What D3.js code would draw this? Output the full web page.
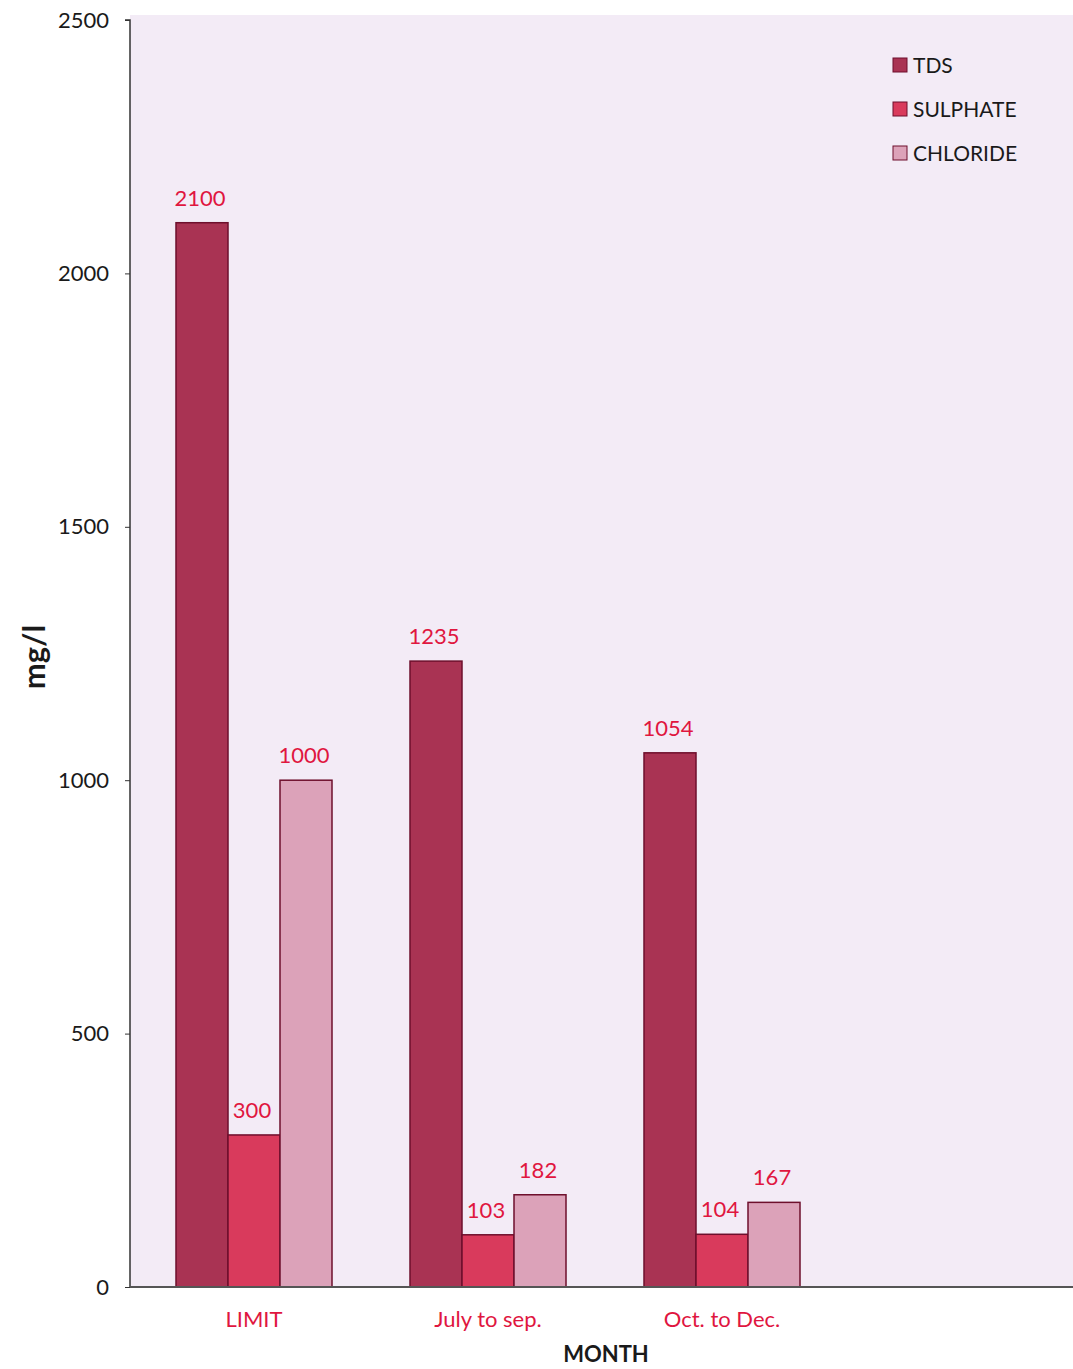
<!DOCTYPE html>
<html>
<head>
<meta charset="utf-8">
<script src="https://cdn.jsdelivr.net/npm/d3@7"></script>
<style>
  html, body { margin: 0; padding: 0; background: #ffffff; }
  svg { display: block; }
</style>
</head>
<body>
<div id="chart"></div>
<script>
// Water quality by period (mg/l)
const categories = ["LIMIT", "July to sep.", "Oct. to Dec."];
const seriesNames = ["TDS", "SULPHATE", "CHLORIDE"];
const tdsValues = [2100, 1235, 1054];
const sulphateValues = [300, 103, 104];
const chlorideValues = [1000, 182, 167];
const yTicks = [0, 500, 1000, 1500, 2000, 2500];

const seriesValues = [tdsValues, sulphateValues, chlorideValues];
const colors = ["#a93353", "#d93a5c", "#dca2b9"];
const strokeCol = "#6e0f2c";
const labelRed = "#e0163f";
const font = "Lato, 'Open Sans', sans-serif";

const W = 1073, H = 1369;
const plot = { left: 130, top: 15, right: 1073, bottom: 1287 };

const svg = d3.select("#chart").append("svg")
  .attr("width", W).attr("height", H);

// plot area background
svg.append("rect")
  .attr("x", plot.left).attr("y", plot.top)
  .attr("width", plot.right - plot.left).attr("height", plot.bottom - plot.top)
  .attr("fill", "#f3ebf6");

const y = d3.scaleLinear().domain([0, 2500]).range([1287, 20]);

const x0 = d3.scaleBand().domain(categories).range([137, 839]).paddingInner(0).paddingOuter(0);
const groupWidth = 156;
const x1 = d3.scaleBand().domain(seriesNames).range([0, groupWidth]).padding(0);
const offset = (x0.bandwidth() - groupWidth) / 2;

const rows = categories.map((c, i) => ({
  cat: c,
  vals: seriesNames.map((s, j) => ({ series: s, idx: j, value: seriesValues[j][i] }))
}));

const groups = svg.append("g").selectAll("g").data(rows).join("g")
  .attr("transform", d => `translate(${x0(d.cat) + offset},0)`);

groups.selectAll("rect").data(d => d.vals).join("rect")
  .attr("x", d => x1(d.series))
  .attr("y", d => y(d.value))
  .attr("width", x1.bandwidth())
  .attr("height", d => y(0) - y(d.value))
  .attr("fill", d => colors[d.idx])
  .attr("stroke", strokeCol)
  .attr("stroke-width", 1.5);

groups.selectAll("text").data(d => d.vals).join("text")
  .attr("x", d => x1(d.series) + x1.bandwidth() / 2 - 2)
  .attr("y", d => y(d.value) - 17)
  .attr("text-anchor", "middle")
  .attr("font-family", font)
  .attr("font-size", 22)
  .attr("fill", labelRed)
  .text(d => d.value);

// y axis
const yAxis = d3.axisLeft(y).tickValues(yTicks).tickSize(5).tickPadding(16).tickFormat(d3.format("d"));
const yg = svg.append("g").attr("transform", `translate(${plot.left},0)`).call(yAxis);
yg.select(".domain").attr("stroke", "#333").attr("stroke-width", 1.5).attr("d", `M-5,${y(2500)}H0V${y(0)}`);
yg.selectAll(".tick line").attr("stroke", "#333");
yg.selectAll("text").attr("font-family", font).attr("font-size", 22).attr("fill", "#1a1a1a");

// x axis baseline and category labels
const xAxis = d3.axisBottom(x0).tickSize(0).tickPadding(24);
const xg = svg.append("g").attr("transform", `translate(0,${plot.bottom})`).call(xAxis);
xg.select(".domain").attr("stroke", "#555").attr("stroke-width", 2).attr("d", `M${plot.left},0H${plot.right}`);
xg.selectAll(".tick text")
  .attr("font-family", font).attr("font-size", 22).attr("fill", labelRed);

// axis titles
svg.append("text")
  .attr("transform", "translate(45,657) rotate(-90)")
  .attr("text-anchor", "middle")
  .attr("font-family", font).attr("font-size", 31).attr("font-weight", "bold")
  .attr("fill", "#1a1a1a")
  .text("mg/l");

svg.append("text")
  .attr("x", 606).attr("y", 1362)
  .attr("text-anchor", "middle")
  .attr("font-family", font).attr("font-size", 22).attr("font-weight", "bold")
  .attr("fill", "#1a1a1a")
  .text("MONTH");

// legend
const legend = svg.append("g").attr("transform", "translate(893,65)");
const li = legend.selectAll("g").data(seriesNames).join("g")
  .attr("transform", (d, i) => `translate(0,${i * 44})`);
li.append("rect")
  .attr("x", 0).attr("y", -7).attr("width", 14).attr("height", 14)
  .attr("fill", (d, i) => colors[i]).attr("stroke", strokeCol).attr("stroke-width", 1);
li.append("text")
  .attr("x", 20).attr("y", 8)
  .attr("font-family", font).attr("font-size", 21).attr("fill", "#1a1a1a")
  .text(d => d);
</script>
</body>
</html>
